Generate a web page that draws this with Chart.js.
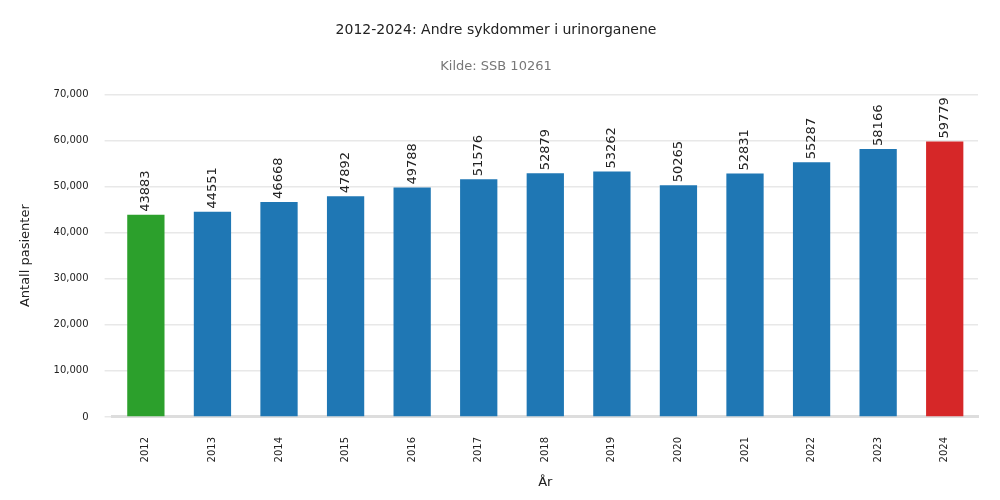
<!DOCTYPE html>
<html>
<head>
<meta charset="utf-8">
<script src="https://cdn.jsdelivr.net/npm/chart.js@4"></script>
<style>
  body { margin: 0; background: #fff; }
  #wrap { width: 1000px; height: 500px; }
</style>
</head>
<body>
<div id="wrap"><canvas id="myChart"></canvas></div>
<script>
const years = ["2012", "2013", "2014", "2015", "2016", "2017", "2018", "2019", "2020", "2021", "2022", "2023", "2024"];
const patients = [43883, 44551, 46668, 47892, 49788, 51576, 52879, 53262, 50265, 52831, 55287, 58166, 59779];
const yTicks = [0, 10000, 20000, 30000, 40000, 50000, 60000, 70000];

const barColors = years.map((y, i) =>
	i === 0 ? "#2ca02c" : i === years.length - 1 ? "#d62728" : "#1f77b4");

// value labels standing on top of each bar, rotated
const valueLabels = {
	id: "valueLabels",
	afterDatasetsDraw(chart) {
		const ctx = chart.ctx;
		const meta = chart.getDatasetMeta(0);
		ctx.save();
		ctx.font = "13px 'DejaVu Sans'";
		ctx.fillStyle = "#222";
		ctx.textAlign = "left";
		ctx.textBaseline = "middle";
		meta.data.forEach((bar, i) => {
			ctx.save();
			ctx.translate(bar.x, bar.y - 3);
			ctx.rotate(-Math.PI / 2);
			ctx.fillText(String(patients[i]), 0, 0);
			ctx.restore();
		});
		ctx.restore();
	}
};

new Chart(document.getElementById("myChart"), {
	type: "bar",
	data: {
		labels: years,
		datasets: [{
			label: "Antall pasienter",
			data: patients,
			backgroundColor: barColors,
			barPercentage: 0.56,
			categoryPercentage: 1.0
		}]
	},
	options: {
		responsive: true,
		maintainAspectRatio: false,
		animation: false,
		layout: { padding: { left: 14, right: 22, top: 0, bottom: 6 } },
		plugins: {
			legend: { display: false },
			tooltip: { enabled: false },
			title: {
				display: true,
				text: "2012-2024: Andre sykdommer i urinorganene",
				color: "#222",
				font: { family: "DejaVu Sans", size: 14, weight: "normal" },
				padding: { top: 22, bottom: 20 }
			},
			subtitle: {
				display: true,
				text: "Kilde: SSB 10261",
				color: "#777",
				font: { family: "DejaVu Sans", size: 13 },
				padding: { top: 0, bottom: 20 }
			}
		},
		scales: {
			x: {
				grid: { display: false },
				border: { color: "#ddd", width: 3 },
				ticks: {
					minRotation: 90, maxRotation: 90,
					color: "#222",
					font: { family: "DejaVu Sans", size: 10 },
					padding: 12
				},
				title: {
					display: true, text: "År", color: "#222",
					font: { family: "DejaVu Sans", size: 13 },
					padding: { top: 0 }
				}
			},
			y: {
				min: 0, max: 70000,
				afterBuildTicks(axis) { axis.ticks = yTicks.map(v => ({ value: v })); },
				grid: { color: "#e8e8e8", lineWidth: 1.5 },
				border: { display: false },
				ticks: {
					color: "#222",
					font: { family: "DejaVu Sans", size: 10 },
					padding: 16
				},
				title: {
					display: true, text: "Antall pasienter", color: "#222",
					font: { family: "DejaVu Sans", size: 13 }
				}
			}
		}
	},
	plugins: [valueLabels]
});
</script>
</body>
</html>
